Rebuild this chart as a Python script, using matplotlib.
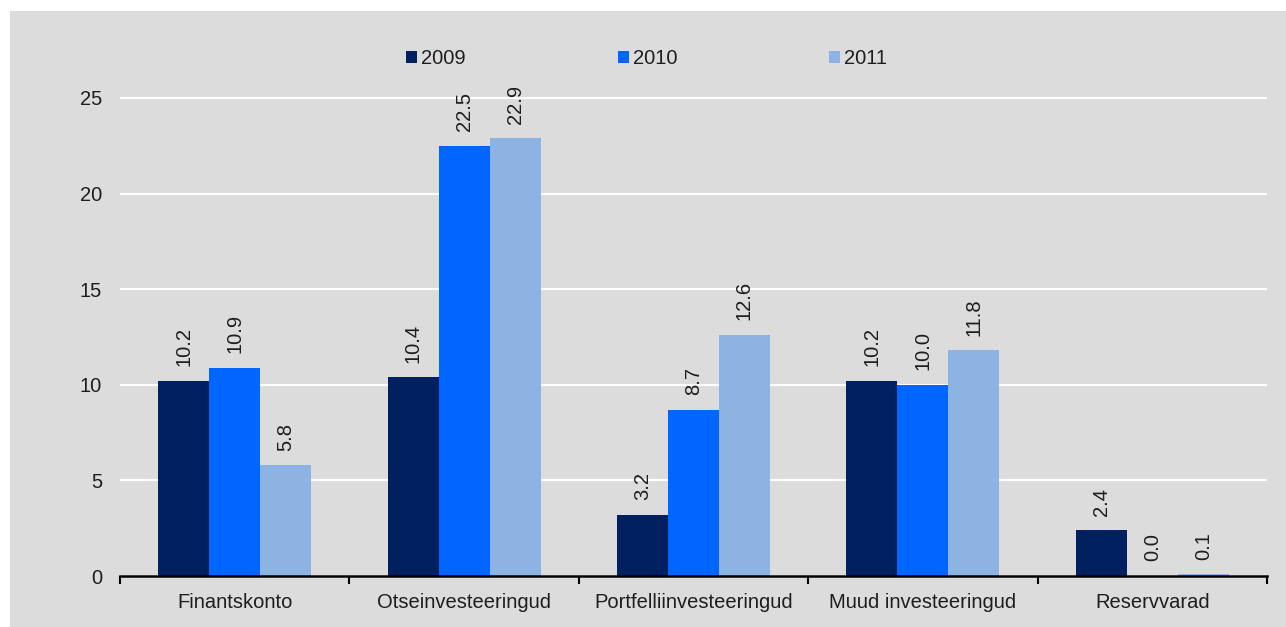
import numpy as np
import matplotlib.pyplot as plt
from matplotlib.patches import Rectangle

plt.rcParams['font.family'] = ['Liberation Sans', 'DejaVu Sans']

# ── Andmed ────────────────────────────────────────────────────────────────────
kategooriad = ['Finantskonto', 'Otseinvesteeringud', 'Portfelliinvesteeringud',
               'Muud investeeringud', 'Reservvarad']
aastad = ['2009', '2010', '2011']
v2009 = [10.2, 10.4, 3.2, 10.2, 2.4]
v2010 = [10.9, 22.5, 8.7, 10.0, 0.0]
v2011 = [5.8, 22.9, 12.6, 11.8, 0.1]
y_ticks = [0, 5, 10, 15, 20, 25]

varvid = ['#002060', '#0066ff', '#8db3e2']
taust = '#dcdcdc'
tekst = '#1e1e1e'

fig = plt.figure(figsize=(12.86, 6.27), dpi=100, facecolor='white')
fig.patches.append(Rectangle((10 / 1286, 0), 1 - 10 / 1286, 1 - 11 / 627,
                             transform=fig.transFigure, facecolor=taust,
                             edgecolor='none', zorder=-10))

ax = fig.add_axes([120 / 1286, 51 / 627, 1147 / 1286, 488 / 627])
ax.set_facecolor(taust)

x = np.arange(len(kategooriad))
w = 1 / 4.5
for i, (vals, aasta, cor) in enumerate(zip([v2009, v2010, v2011], aastad, varvid)):
    pos = x + (i - 1) * w
    ax.bar(pos, vals, width=w, color=cor, label=aasta, zorder=3)
    for xp, v in zip(pos, vals):
        t = ax.annotate(f'{v:.1f}', (xp, v), xytext=(0, 10.5), textcoords='offset points',
                        rotation=90, ha='center', va='bottom', fontsize=14.5,
                        color=tekst, annotation_clip=False, zorder=4)
        t.set_clip_on(True)
        t.set_clip_box(ax.bbox)

ax.set_xlim(-0.5, len(kategooriad) - 0.5)
ax.set_ylim(0, 25.52)

# y-telg
ax.set_yticks(y_ticks)
ax.tick_params(axis='y', length=0, pad=13, labelsize=14.5, labelcolor=tekst)
ax.grid(axis='y', color='white', lw=1.5, zorder=1)
ax.set_axisbelow(True)

# x-telg: piirid põhitickidena, nimed abitickidena
ax.set_xticks(np.arange(-0.5, len(kategooriad)), labels=[])
ax.set_xticks(x, labels=kategooriad, minor=True)
ax.tick_params(axis='x', which='major', length=6, width=1.5, direction='out', color='black')
ax.tick_params(axis='x', which='minor', length=0, pad=12, labelsize=14.5, labelcolor=tekst)

for s in ['top', 'right', 'left']:
    ax.spines[s].set_visible(False)
ax.spines['bottom'].set_linewidth(1.8)
ax.spines['bottom'].set_zorder(5)

leg = fig.legend(loc='center', bbox_to_anchor=(646.5 / 1286, 1 - 59 / 627), ncol=3,
                 frameon=False, fontsize=14.5, handlelength=0.55, handleheight=0.55,
                 handletextpad=0.2, columnspacing=7.55, borderaxespad=0)
for t in leg.get_texts():
    t.set_color(tekst)

plt.savefig('out.png', dpi=100, facecolor='white')
